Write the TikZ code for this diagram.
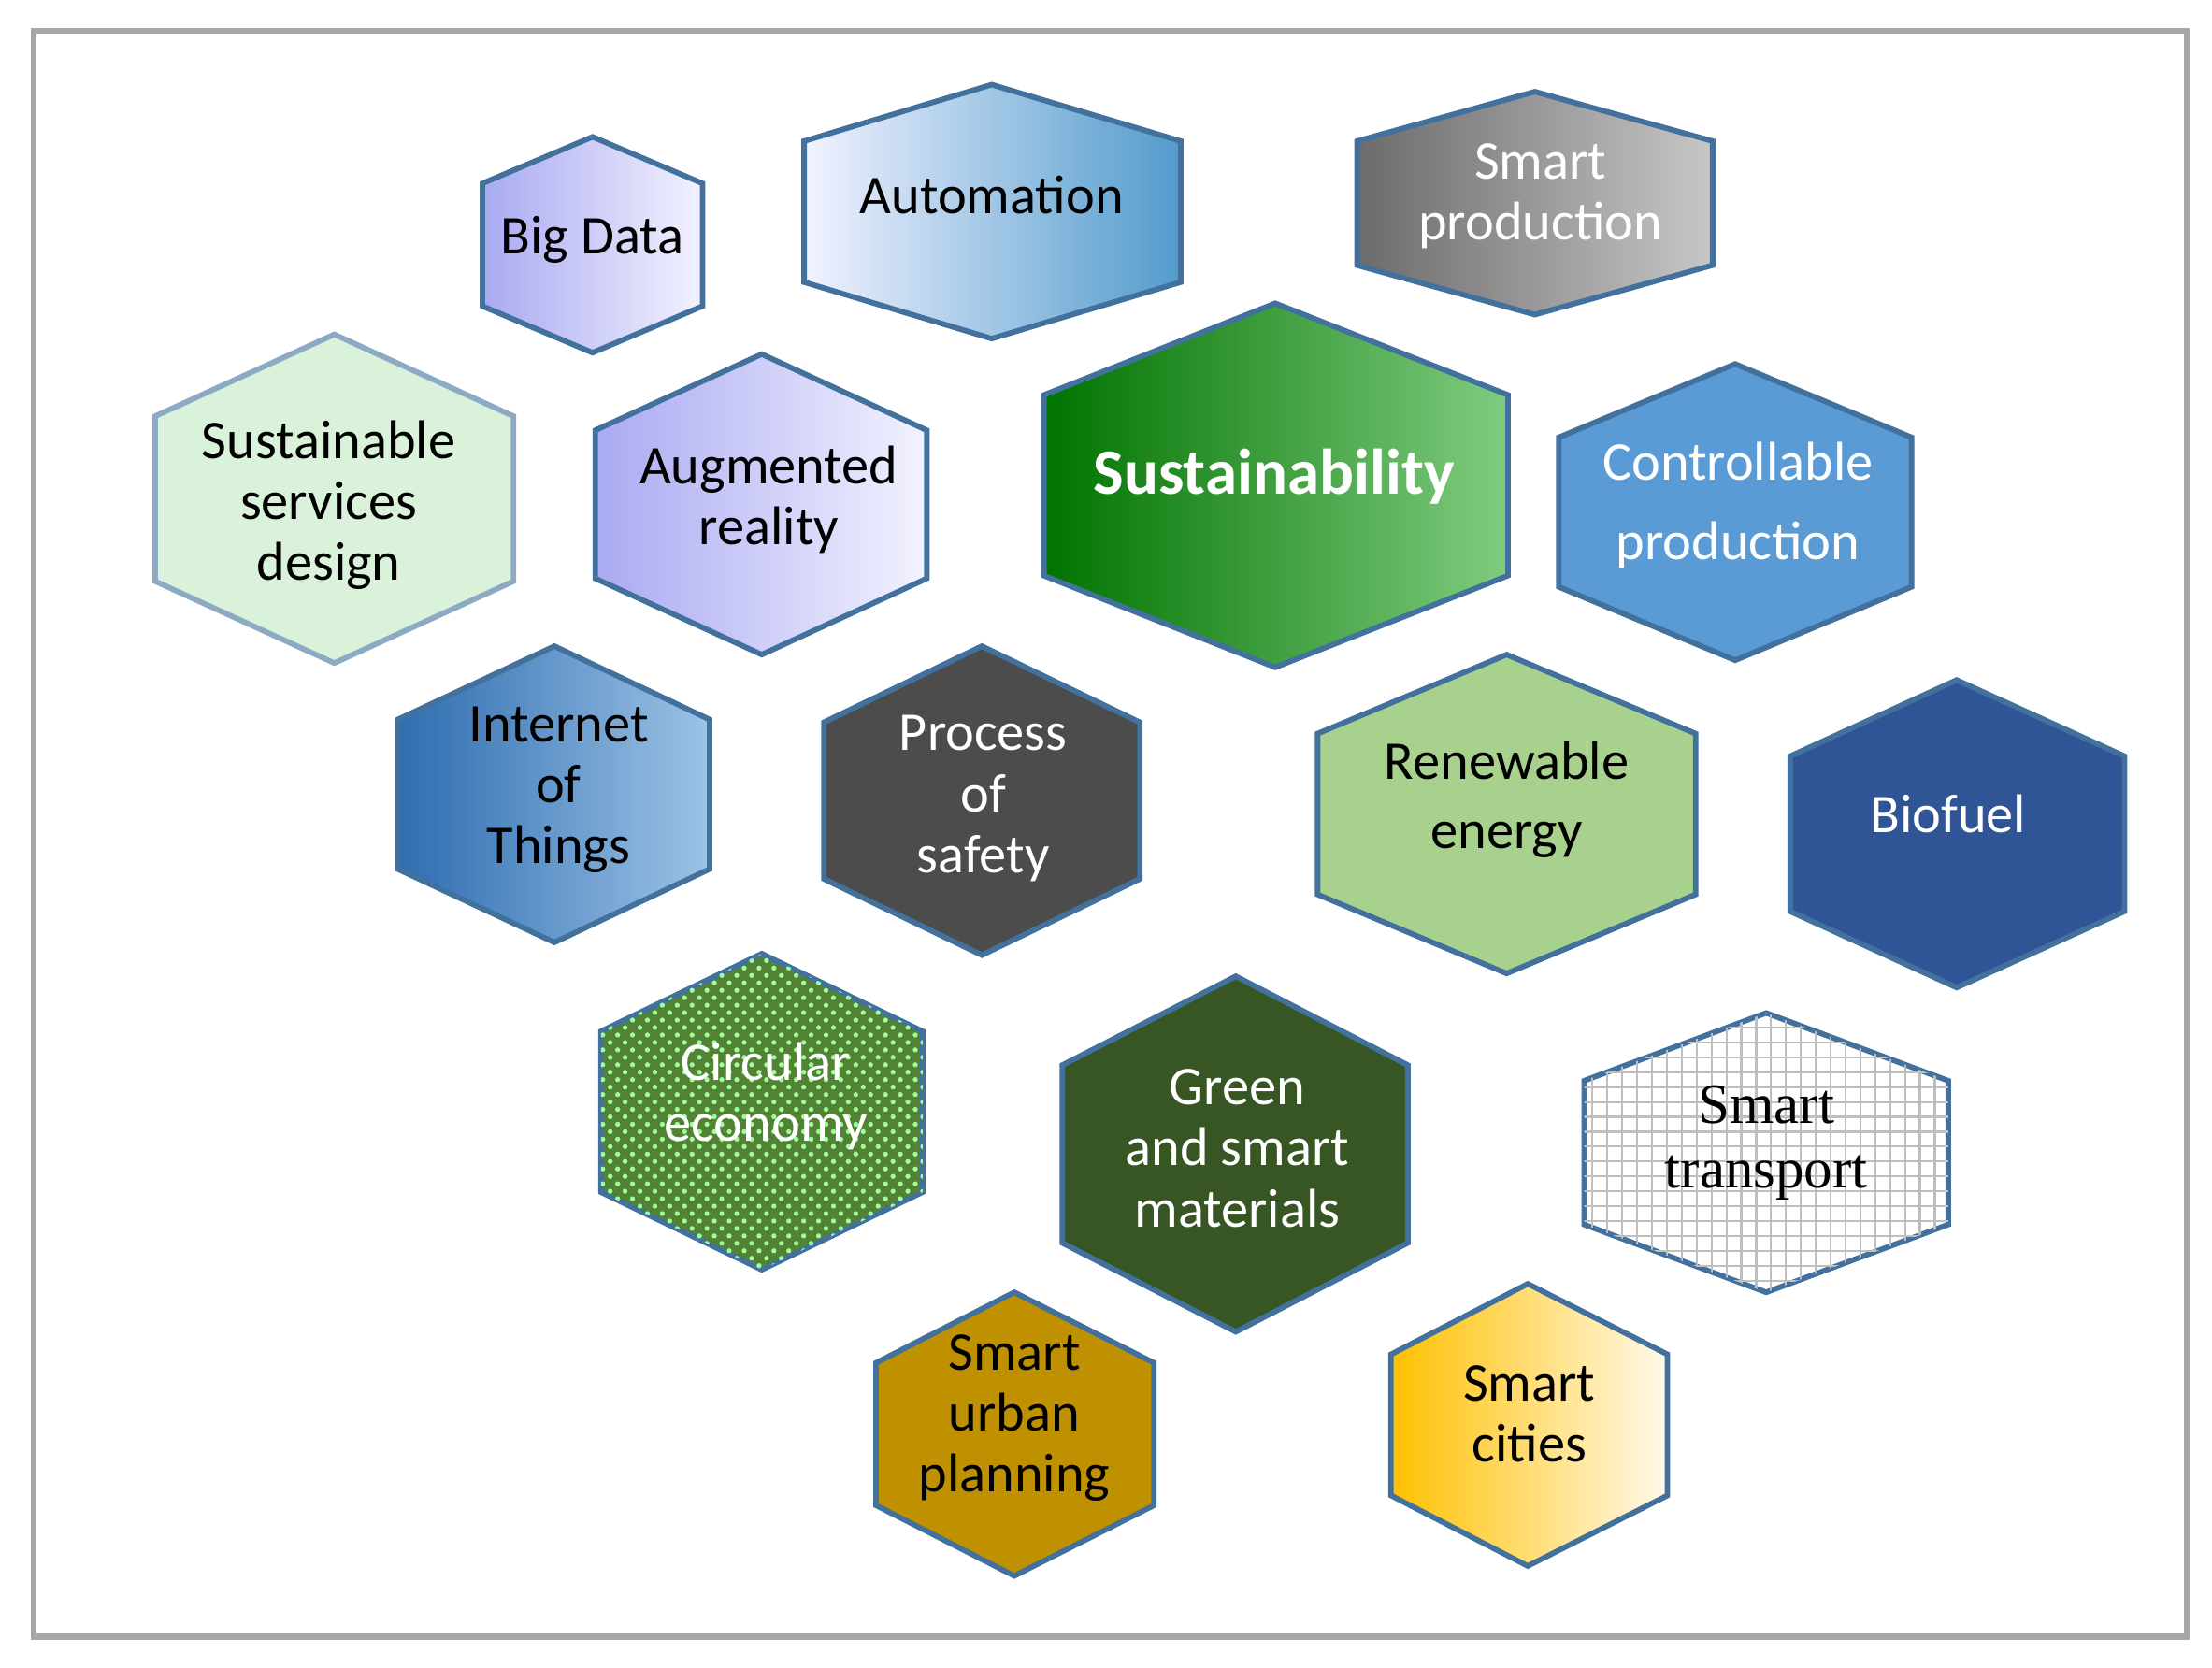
\documentclass[tikz,border=0pt]{standalone}
\usepackage{fontspec}
\setmainfont{Carlito}
\newfontfamily\serifx{Liberation Serif}
\usetikzlibrary{patterns}
\definecolor{edge}{HTML}{41719C}
\newcommand\hexg[8]{\path[hexs,#8] (#2,#3) -- (#6,#3+#7) -- (#6,#4-#7) -- (#2,#4) -- (#5,#4-#7) -- (#5,#3+#7) -- cycle;}
\begin{document}
\begin{tikzpicture}[x=0.01cm,y=-0.01cm,
 hexs/.style={draw=edge,line width=1.1pt},
 txt/.style={align=center,font=\fontsize{11}{12.3}\selectfont,inner sep=0pt},
 wt/.style={txt,text=white}]
\useasboundingbox (0,0) rectangle (1568,1182);
\fill[white] (0,0) rectangle (1568,1182);
\draw[gray!70,line width=1.2pt] (24,22) rectangle (1550,1160);
\hexg{bd}{420}{97}{250}{342}{498}{33}{left color=blue!30!white!95!black,right color=white!95!blue}
\hexg{au}{703}{60}{240}{570}{837}{40}{left color=white!95!blue,right color=blue!40!cyan!60!white!80!black}
\hexg{sp}{1088}{65}{223}{962}{1214}{35}{left color=black!58,right color=black!22}
\hexg{ss}{237}{237}{470}{110}{364}{58}{fill=green!10!white!95!black,draw=edge!60}
\hexg{ar}{540}{251}{464}{422}{657}{54}{left color=blue!30!white!95!black,right color=white!95!blue}
\hexg{su}{904}{215}{473}{740}{1069}{65}{left color=green!45!black,right color=green!60!black!50!white}
\hexg{cp}{1230}{258}{468}{1105}{1355}{52}{fill={rgb,255:red,91;green,155;blue,213}}
\hexg{it}{393}{458}{668}{282}{503}{52}{left color={rgb,255:red,46;green,109;blue,176},right color={rgb,255:red,157;green,195;blue,230}}
\hexg{ps}{696}{458}{677}{584}{808}{54}{fill=black!70}
\hexg{re}{1068}{464}{690}{934}{1202}{56}{fill={rgb,255:red,169;green,209;blue,142}}
\hexg{bf}{1387}{482}{700}{1269}{1506}{54}{fill={rgb,255:red,47;green,85;blue,151}}
\hexg{ce}{540}{676}{900}{426}{654}{55}{fill={rgb,255:red,84;green,130;blue,53}}
\path[pattern=crosshatch dots,pattern color=green!40!white] (540,676) -- (654,731) -- (654,845) -- (540,900) -- (426,845) -- (426,731) -- cycle;
\hexg{gm}{876}{692}{944}{753}{998}{63}{fill={rgb,255:red,55;green,86;blue,35}}
\hexg{st}{1252}{718}{916}{1123}{1381}{48}{fill=white}
\path[pattern=grid,pattern color=black!25] (1252,718) -- (1381,766) -- (1381,868) -- (1252,916) -- (1123,868) -- (1123,766) -- cycle;
\hexg{su2}{719}{916}{1117}{621}{818}{50}{fill={rgb,255:red,191;green,144;blue,0}}
\hexg{sc}{1083}{910}{1110}{986}{1182}{50}{left color={rgb,255:red,255;green,192;blue,0},right color={rgb,255:red,255;green,250;blue,235}}
\node[txt] (t1) at (420,170) {Big Data};
\node[txt] (t2) at (703,138) {Automation};
\node[wt] (t3) at (1092,139) {Smart\\production};
\node[txt] (t4) at (233,358) {Sustainable\\services\\design};
\node[txt] (t5) at (545,354) {Augmented\\reality};
\node[wt,font=\bfseries\fontsize{13}{14}\selectfont] (t6) at (903,338) {Sustainability};
\node[wt,font=\fontsize{11}{16}\selectfont] (t7) at (1232,358) {Controllable\\production};
\node[txt] (t8) at (396,560) {Internet\\of\\Things};
\node[wt] (t9) at (697,566) {Process\\of\\safety};
\node[txt,font=\fontsize{11}{14}\selectfont] (t10) at (1068,567) {Renewable\\energy};
\node[wt] (t11) at (1381,577) {Biofuel};
\node[wt] (t12) at (543,777) {Circular\\economy};
\node[wt] (t13) at (877,814) {Green\\and smart\\materials};
\node[txt,font=\serifx\fontsize{11.5}{13}\selectfont] (t14) at (1252,810) {Smart\\transport};
\node[txt] (t15) at (719,1005) {Smart\\urban\\planning};
\node[txt] (t16) at (1084,1002) {Smart\\cities};
\end{tikzpicture}
\end{document}
